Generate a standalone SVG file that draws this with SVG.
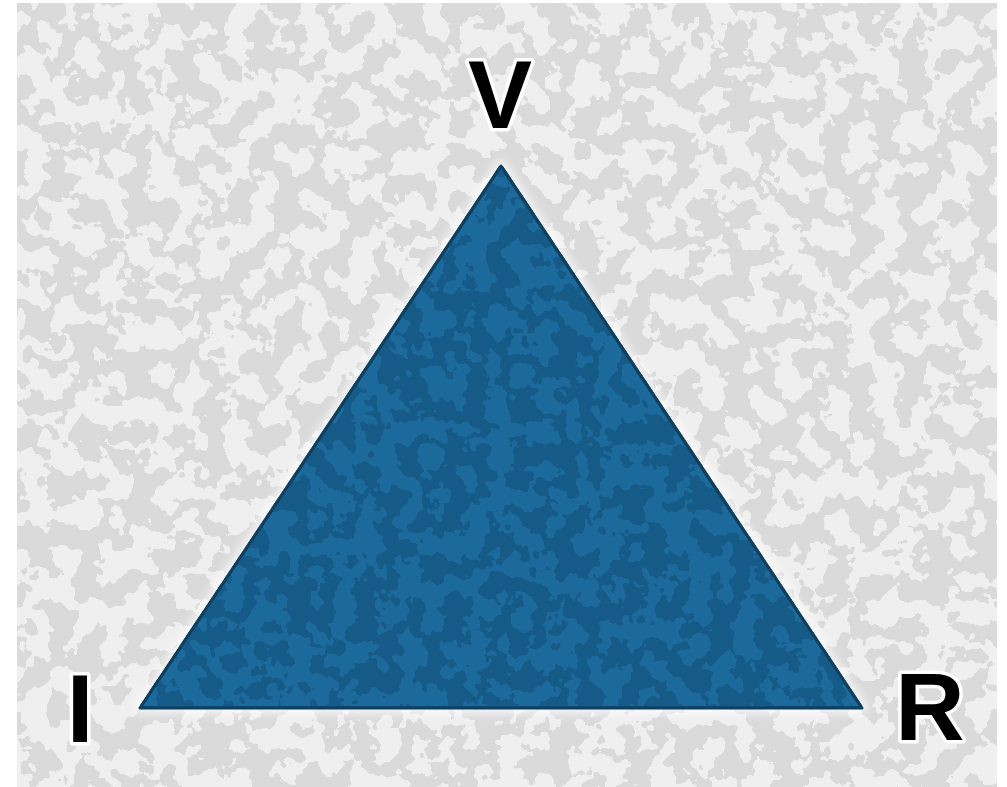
<svg xmlns="http://www.w3.org/2000/svg" width="1007" height="787" viewBox="0 0 1007 787">
  <style>
    .label { font-family: "Liberation Sans", "DejaVu Sans", Arial, sans-serif; font-weight: bold; font-size: 96px; fill: #000; text-anchor: middle; stroke: #ffffff; stroke-width: 7; stroke-linejoin: round; paint-order: stroke; }
    .tri { fill: #1c6a9c; stroke: #0f3f5e; stroke-width: 3; stroke-linejoin: round; }
  </style>
  <defs>
    <filter id="bgTex" x="0" y="0" width="100%" height="100%" color-interpolation-filters="sRGB">
      <feTurbulence type="fractalNoise" baseFrequency="0.04" numOctaves="3" seed="7" result="n"/>
      <feColorMatrix in="n" type="matrix" values="0 0 0 0 0  0 0 0 0 0  0 0 0 0 0  1 0 0 0 0" result="m"/>
      <feComponentTransfer in="m" result="t"><feFuncA type="discrete" tableValues="0 0 0 0 0 1 1 1 1 1"/></feComponentTransfer>
      <feFlood flood-color="#dadada" result="c"/>
      <feComposite in="c" in2="t" operator="in" result="spots"/>
      <feMerge><feMergeNode in="SourceGraphic"/><feMergeNode in="spots"/></feMerge>
    </filter>
    <filter id="triTex" x="0" y="0" width="100%" height="100%" color-interpolation-filters="sRGB">
      <feTurbulence type="fractalNoise" baseFrequency="0.045" numOctaves="3" seed="3" result="n"/>
      <feColorMatrix in="n" type="matrix" values="0 0 0 0 0  0 0 0 0 0  0 0 0 0 0  1 0 0 0 0" result="m"/>
      <feComponentTransfer in="m" result="t"><feFuncA type="discrete" tableValues="0 0 0 0 0 1 1 1 1 1"/></feComponentTransfer>
      <feFlood flood-color="#165b87" result="c"/>
      <feComposite in="c" in2="t" operator="in" result="s1"/>
      <feComposite in="s1" in2="SourceAlpha" operator="in" result="spots"/>
      <feMerge><feMergeNode in="SourceGraphic"/><feMergeNode in="spots"/></feMerge>
    </filter>
    <filter id="halo" x="-10%" y="-10%" width="120%" height="120%">
      <feGaussianBlur stdDeviation="4"/>
    </filter>
  </defs>

  <rect x="0" y="0" width="1007" height="787" fill="#ffffff"/>
  <rect x="17" y="3" width="980" height="784" fill="#efefef" filter="url(#bgTex)"/>

  <g id="connectors"></g>

  <g id="triangle">
    <polygon points="501,166 140,708 862,708" fill="none" stroke="#ffffff" stroke-width="12" stroke-linejoin="round" opacity="0.7" filter="url(#halo)"/>
    <polygon class="tri" points="501,166 140,708 862,708" filter="url(#triTex)"/>
    <polygon points="501,166 140,708 862,708" fill="none" stroke="#0f3f5e" stroke-width="3" stroke-linejoin="round"/>
  </g>

  <g id="label-V">
    <text class="label" x="500" y="128">V</text>
  </g>
  <g id="label-I">
    <text class="label" x="80" y="742">I</text>
  </g>
  <g id="label-R">
    <text class="label" x="930" y="740">R</text>
  </g>
</svg>
